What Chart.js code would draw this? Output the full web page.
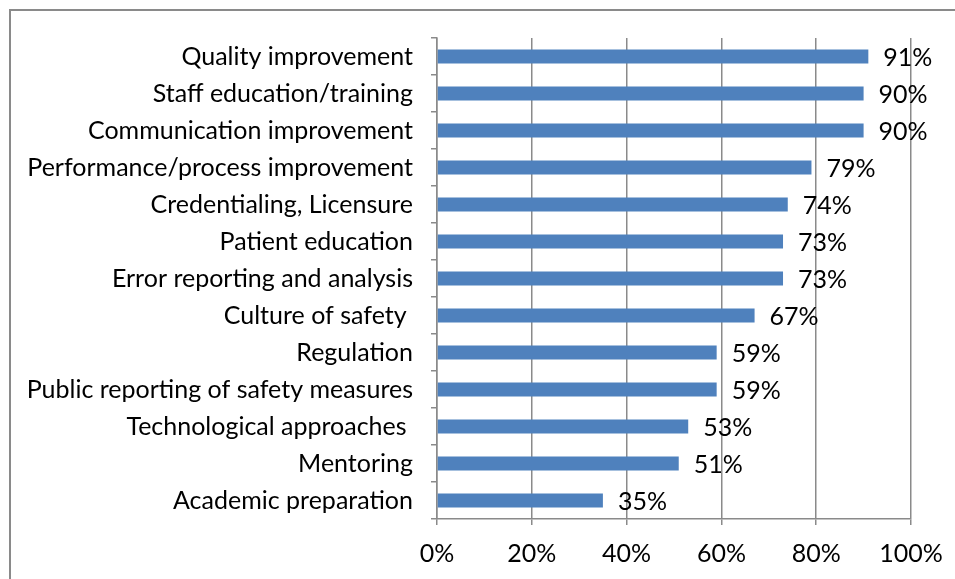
<!DOCTYPE html>
<html><head><meta charset="utf-8">
<script src="https://cdn.jsdelivr.net/npm/chart.js@4/dist/chart.umd.min.js"></script>
<style>
html,body{margin:0;padding:0;background:#fff;overflow:hidden;}
#wrap{position:relative;width:955px;height:579px;}
#frame{position:absolute;left:9px;top:9px;width:1000px;height:700px;border:2px solid #8a8a8a;box-sizing:border-box;}
canvas{position:absolute;left:0;top:0;}
</style></head><body>
<div id="wrap"><div id="frame"></div><canvas id="c" width="955" height="579"></canvas></div>
<script>
const categories = ["Quality improvement","Staff education/training","Communication improvement","Performance/process improvement","Credentialing, Licensure","Patient education","Error reporting and analysis","Culture of safety ","Regulation","Public reporting of safety measures","Technological approaches ","Mentoring","Academic preparation"];
const values = [91,90,90,79,74,73,73,67,59,59,53,51,35];
const xTicks = [0,20,40,60,80,100];

const FONT = "Lato, 'Open Sans', sans-serif";
const FS = 25;
const valueLabels = {
  id:'valueLabels',
  afterDatasetsDraw(chart){
    const ctx = chart.ctx;
    const meta = chart.getDatasetMeta(0);
    ctx.save();
    ctx.font = FS + "px " + FONT;
    ctx.fillStyle = "#000";
    ctx.textAlign = "left";
    ctx.textBaseline = "middle";
    meta.data.forEach((bar,i)=>{
      ctx.fillText(values[i] + "%", bar.x + 15, bar.y + 1);
    });
    ctx.restore();
  }
};

new Chart(document.getElementById('c'), {
  type:'bar',
  data:{labels:categories, datasets:[{data:values, backgroundColor:'#4F81BD', borderWidth:0, categoryPercentage:1, barPercentage:0.38}]},
  options:{
    indexAxis:'y', responsive:false, animation:false,
    layout:{padding:{left:0,right:44,top:38,bottom:0}},
    plugins:{legend:{display:false}, tooltip:{enabled:false}},
    scales:{
      x:{min:0,max:100,
        afterBuildTicks(s){ s.ticks = xTicks.map(v=>({value:v})); },
        afterFit(s){ s.height = 60; s.paddingLeft = 0; s.paddingRight = 0; },
        ticks:{callback:v=>v+"%", color:'#000', font:{family:FONT,size:FS}, padding:14, maxRotation:0},
        grid:{color:'#8a8a8a', lineWidth:1.5, tickLength:6, drawOnChartArea:true},
        border:{color:'#8a8a8a', width:1.5}
      },
      y:{
        afterFit(s){ s.width = 437; s.paddingTop = 0; s.paddingBottom = 0; },
        ticks:{color:'#000', font:{family:FONT,size:FS}, padding:18, autoSkip:false},
        grid:{drawOnChartArea:false, color:'#8a8a8a', lineWidth:1.5, tickLength:6, offset:true},
        border:{color:'#8a8a8a', width:1.5}
      }
    }
  },
  plugins:[valueLabels]
});
</script>
</body></html>
